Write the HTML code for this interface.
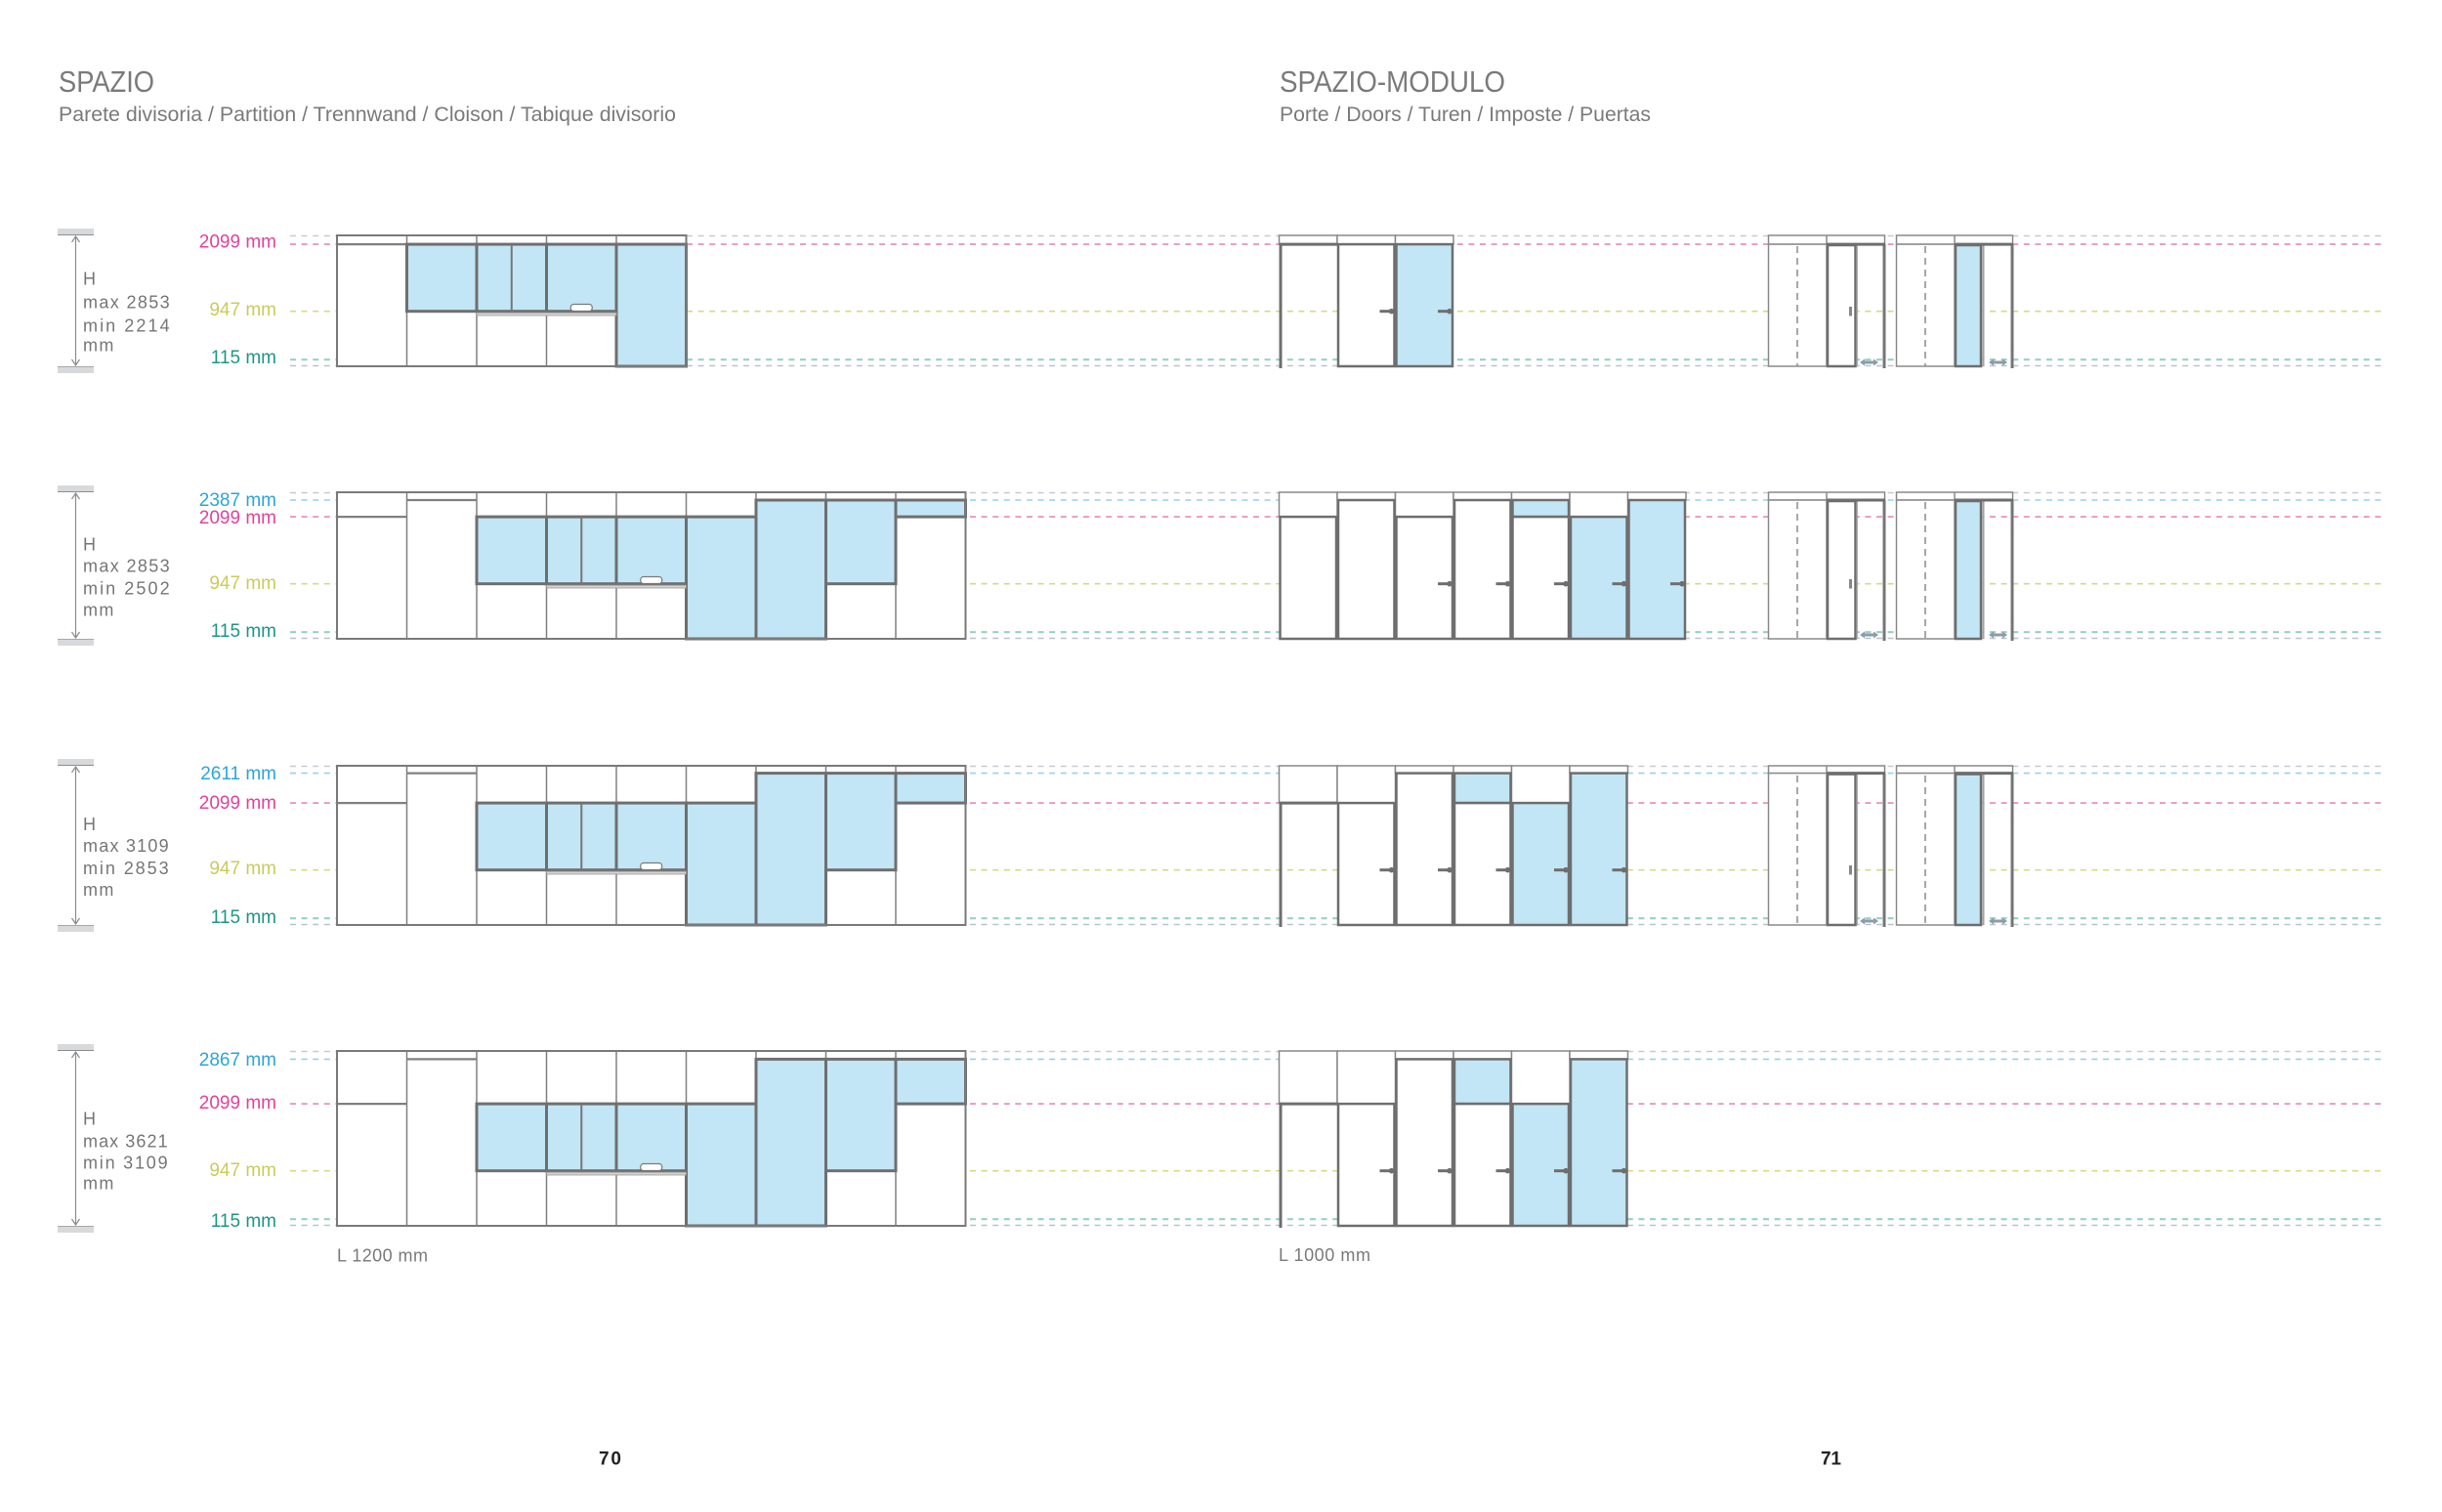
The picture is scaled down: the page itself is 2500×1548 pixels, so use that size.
<!DOCTYPE html>
<html>
<head>
<meta charset="utf-8">
<style>
html,body{margin:0;padding:0;background:#fff;}
svg{display:block;}
text{font-family:"Liberation Sans",sans-serif;}
.hd{fill:#7a7a7a;}
.lt{fill:#767676;font-size:18px;letter-spacing:1.4px;}
.lab{font-size:19px;text-anchor:end;}
.cB{fill:#2aa6da;} .cP{fill:#e5419a;} .cY{fill:#cbcb5a;} .cT{fill:#1b9786;}
.d{fill:none;stroke-dasharray:6 5.6;stroke-width:1.6;}
.g1{stroke:#c6cad1;} .bl{stroke:#93d2ea;} .pk{stroke:#e58ab9;} .ye{stroke:#d8d982;} .te{stroke:#95d3c3;stroke-width:2.1;} .g2{stroke:#bcc2cb;}
</style>
</head>
<body>
<svg width="2500" height="1548" viewBox="0 0 2500 1548" xmlns="http://www.w3.org/2000/svg">
<defs>
  <g id="hdl"><line x1="-12" y1="0" x2="0" y2="0" stroke="#6e6e6e" stroke-width="3"/><circle cx="0" cy="0" r="2.8" fill="#6e6e6e"/></g>
  <g id="arr"><line x1="4" y1="0" x2="15" y2="0" stroke="#8d9cab" stroke-width="3"/><polygon points="0,0 5,-3.5 5,3.5" fill="#8d9cab"/><polygon points="19,0 14,-3.5 14,3.5" fill="#8d9cab"/></g>
</defs>
<rect width="2500" height="1548" fill="#fff"/>

<!-- HEADERS -->
<text class="hd" x="60" y="94" font-size="31" textLength="98" lengthAdjust="spacingAndGlyphs">SPAZIO</text>
<text class="hd" x="60" y="124" font-size="21" textLength="632" lengthAdjust="spacingAndGlyphs">Parete divisoria / Partition / Trennwand / Cloison / Tabique divisorio</text>
<text class="hd" x="1310" y="94" font-size="31" textLength="231" lengthAdjust="spacingAndGlyphs">SPAZIO-MODULO</text>
<text class="hd" x="1310" y="124" font-size="21" textLength="380" lengthAdjust="spacingAndGlyphs">Porte / Doors / Turen / Imposte / Puertas</text>

<!-- DASHED LINES -->
<line class="d g1" x1="297" y1="241.5" x2="2440" y2="241.5"/>
<line class="d pk" x1="297" y1="250.1" x2="2440" y2="250.1"/>
<line class="d ye" x1="297" y1="318.7" x2="2440" y2="318.7"/>
<line class="d te" x1="297" y1="368.2" x2="2440" y2="368.2"/>
<line class="d g2" x1="297" y1="374.5" x2="2440" y2="374.5"/>

<line class="d g1" x1="297" y1="504.5" x2="2440" y2="504.5"/>
<line class="d bl" x1="297" y1="512" x2="2440" y2="512"/>
<line class="d pk" x1="297" y1="529.1" x2="2440" y2="529.1"/>
<line class="d ye" x1="297" y1="597.7" x2="2440" y2="597.7"/>
<line class="d te" x1="297" y1="647.2" x2="2440" y2="647.2"/>
<line class="d g2" x1="297" y1="653.5" x2="2440" y2="653.5"/>

<line class="d g1" x1="297" y1="784.5" x2="2440" y2="784.5"/>
<line class="d bl" x1="297" y1="791.6" x2="2440" y2="791.6"/>
<line class="d pk" x1="297" y1="822.1" x2="2440" y2="822.1"/>
<line class="d ye" x1="297" y1="890.7" x2="2440" y2="890.7"/>
<line class="d te" x1="297" y1="940.2" x2="2440" y2="940.2"/>
<line class="d g2" x1="297" y1="946.5" x2="2440" y2="946.5"/>

<line class="d g1" x1="297" y1="1076.5" x2="2440" y2="1076.5"/>
<line class="d bl" x1="297" y1="1084.4" x2="2440" y2="1084.4"/>
<line class="d pk" x1="297" y1="1130.1" x2="2440" y2="1130.1"/>
<line class="d ye" x1="297" y1="1198.7" x2="2440" y2="1198.7"/>
<line class="d te" x1="297" y1="1248.2" x2="2440" y2="1248.2"/>
<line class="d g2" x1="297" y1="1254.5" x2="2440" y2="1254.5"/>

<!-- LEFT HEIGHT INDICATORS -->
<g>
  <rect x="59" y="234" width="37" height="7" fill="#d8d9db"/><line x1="59" y1="240.5" x2="96" y2="240.5" stroke="#8e8e8e" stroke-width="1"/>
  <rect x="59" y="375" width="37" height="7" fill="#d8d9db"/><line x1="59" y1="375.5" x2="96" y2="375.5" stroke="#a8a8a8" stroke-width="1"/>
  <line x1="77.5" y1="242" x2="77.5" y2="374" stroke="#8c8c8c" stroke-width="1.2"/>
  <polyline points="73.5,248 77.5,242 81.5,248" fill="none" stroke="#8c8c8c" stroke-width="1.2"/>
  <polyline points="73.5,368 77.5,374 81.5,368" fill="none" stroke="#8c8c8c" stroke-width="1.2"/>
  <text class="lt" x="85" y="291.5">H</text>
  <text class="lt" x="85" y="315.5" textLength="90">max 2853</text>
  <text class="lt" x="85" y="339.5" textLength="90">min 2214</text>
  <text class="lt" x="85" y="359.5">mm</text>

  <rect x="59" y="497" width="37" height="7" fill="#d8d9db"/><line x1="59" y1="503.5" x2="96" y2="503.5" stroke="#8e8e8e" stroke-width="1"/>
  <rect x="59" y="654" width="37" height="7" fill="#d8d9db"/><line x1="59" y1="654.5" x2="96" y2="654.5" stroke="#a8a8a8" stroke-width="1"/>
  <line x1="77.5" y1="505" x2="77.5" y2="653" stroke="#8c8c8c" stroke-width="1.2"/>
  <polyline points="73.5,511 77.5,505 81.5,511" fill="none" stroke="#8c8c8c" stroke-width="1.2"/>
  <polyline points="73.5,647 77.5,653 81.5,647" fill="none" stroke="#8c8c8c" stroke-width="1.2"/>
  <text class="lt" x="85" y="563.5">H</text>
  <text class="lt" x="85" y="585.5" textLength="90">max 2853</text>
  <text class="lt" x="85" y="608.5" textLength="90">min 2502</text>
  <text class="lt" x="85" y="630.5">mm</text>

  <rect x="59" y="777" width="37" height="7" fill="#d8d9db"/><line x1="59" y1="783.5" x2="96" y2="783.5" stroke="#8e8e8e" stroke-width="1"/>
  <rect x="59" y="947" width="37" height="7" fill="#d8d9db"/><line x1="59" y1="947.5" x2="96" y2="947.5" stroke="#a8a8a8" stroke-width="1"/>
  <line x1="77.5" y1="785" x2="77.5" y2="946" stroke="#8c8c8c" stroke-width="1.2"/>
  <polyline points="73.5,791 77.5,785 81.5,791" fill="none" stroke="#8c8c8c" stroke-width="1.2"/>
  <polyline points="73.5,940 77.5,946 81.5,940" fill="none" stroke="#8c8c8c" stroke-width="1.2"/>
  <text class="lt" x="85" y="850">H</text>
  <text class="lt" x="85" y="872" textLength="89">max 3109</text>
  <text class="lt" x="85" y="895" textLength="89">min 2853</text>
  <text class="lt" x="85" y="917">mm</text>

  <rect x="59" y="1069" width="37" height="7" fill="#d8d9db"/><line x1="59" y1="1075.5" x2="96" y2="1075.5" stroke="#8e8e8e" stroke-width="1"/>
  <rect x="59" y="1255" width="37" height="7" fill="#d8d9db"/><line x1="59" y1="1255.5" x2="96" y2="1255.5" stroke="#a8a8a8" stroke-width="1"/>
  <line x1="77.5" y1="1077" x2="77.5" y2="1254" stroke="#8c8c8c" stroke-width="1.2"/>
  <polyline points="73.5,1083 77.5,1077 81.5,1083" fill="none" stroke="#8c8c8c" stroke-width="1.2"/>
  <polyline points="73.5,1248 77.5,1254 81.5,1248" fill="none" stroke="#8c8c8c" stroke-width="1.2"/>
  <text class="lt" x="85" y="1151.5">H</text>
  <text class="lt" x="85" y="1174.5" textLength="88">max 3621</text>
  <text class="lt" x="85" y="1196.5" textLength="88">min 3109</text>
  <text class="lt" x="85" y="1217.5">mm</text>
</g>

<!-- LABELS -->
<text class="lab cP" x="283" y="253.5">2099 mm</text>
<text class="lab cY" x="283" y="323">947 mm</text>
<text class="lab cT" x="283" y="372">115 mm</text>

<text class="lab cB" x="283" y="518">2387 mm</text>
<text class="lab cP" x="283" y="536">2099 mm</text>
<text class="lab cY" x="283" y="603">947 mm</text>
<text class="lab cT" x="283" y="652">115 mm</text>

<text class="lab cB" x="283" y="798">2611 mm</text>
<text class="lab cP" x="283" y="828">2099 mm</text>
<text class="lab cY" x="283" y="895">947 mm</text>
<text class="lab cT" x="283" y="945">115 mm</text>

<text class="lab cB" x="283" y="1091">2867 mm</text>
<text class="lab cP" x="283" y="1135">2099 mm</text>
<text class="lab cY" x="283" y="1204">947 mm</text>
<text class="lab cT" x="283" y="1256">115 mm</text>

<!-- ================= LEFT DIAGRAMS ================= -->
<!-- Row 1 -->
<rect x="345" y="241" width="357.5" height="134" fill="#fff"/>
<g stroke="#808080" stroke-width="1.5">
  <line x1="416.5" y1="241" x2="416.5" y2="375"/>
  <line x1="488" y1="241" x2="488" y2="375"/>
  <line x1="559.5" y1="241" x2="559.5" y2="375"/>
  <line x1="631" y1="241" x2="631" y2="375"/>
  <line x1="345" y1="250.1" x2="416.5" y2="250.1" stroke-width="2.2"/>
</g>
<g fill="#c2e6f6" stroke="#6f6f6f" stroke-width="3">
  <rect x="416.5" y="250.1" width="71.5" height="68.6"/>
  <rect x="488" y="250.1" width="71.5" height="68.6"/>
  <rect x="559.5" y="250.1" width="71.5" height="68.6"/>
  <rect x="631" y="250.1" width="71.5" height="124.9"/>
</g>
<line x1="523.75" y1="250" x2="523.75" y2="318.7" stroke="#777" stroke-width="2"/>
<rect x="488" y="320.2" width="143" height="2.8" fill="#d4d4d4" stroke="#999" stroke-width="0.8"/>
<rect x="584.25" y="311.5" width="22" height="7" rx="3" fill="#fff" stroke="#7a7a7a" stroke-width="1.2"/>
<rect x="345" y="241" width="357.5" height="134" fill="none" stroke="#7a7a7a" stroke-width="2"/>

<!-- Row 2 -->
<rect x="345" y="504" width="643.5" height="150" fill="#fff"/>
<g stroke="#808080" stroke-width="1.5">
  <line x1="416.5" y1="504" x2="416.5" y2="654"/>
  <line x1="488" y1="504" x2="488" y2="654"/>
  <line x1="559.5" y1="504" x2="559.5" y2="654"/>
  <line x1="631" y1="504" x2="631" y2="654"/>
  <line x1="702.5" y1="504" x2="702.5" y2="654"/>
  <line x1="774" y1="504" x2="774" y2="654"/>
  <line x1="845.5" y1="504" x2="845.5" y2="654"/>
  <line x1="917" y1="504" x2="917" y2="654"/>
  <line x1="345" y1="529.1" x2="416.5" y2="529.1" stroke-width="2.2"/>
  <line x1="416.5" y1="512" x2="488" y2="512" stroke-width="2.2"/>
</g>
<g fill="#c2e6f6" stroke="#6f6f6f" stroke-width="3">
  <rect x="488" y="529.1" width="71.5" height="68.6"/>
  <rect x="559.5" y="529.1" width="71.5" height="68.6"/>
  <rect x="631" y="529.1" width="71.5" height="68.6"/>
  <rect x="702.5" y="529.1" width="71.5" height="124.9"/>
  <rect x="774" y="512" width="71.5" height="142"/>
  <rect x="845.5" y="512" width="71.5" height="85.7"/>
  <rect x="917" y="512" width="71.5" height="17.1"/>
</g>
<line x1="595.25" y1="529" x2="595.25" y2="597.7" stroke="#777" stroke-width="2"/>
<rect x="559.5" y="599.2" width="143" height="2.8" fill="#d4d4d4" stroke="#999" stroke-width="0.8"/>
<rect x="655.75" y="590.5" width="22" height="7" rx="3" fill="#fff" stroke="#7a7a7a" stroke-width="1.2"/>
<rect x="345" y="504" width="643.5" height="150" fill="none" stroke="#7a7a7a" stroke-width="2"/>

<!-- Row 3 -->
<rect x="345" y="784" width="643.5" height="163" fill="#fff"/>
<g stroke="#808080" stroke-width="1.5">
  <line x1="416.5" y1="784" x2="416.5" y2="947"/>
  <line x1="488" y1="784" x2="488" y2="947"/>
  <line x1="559.5" y1="784" x2="559.5" y2="947"/>
  <line x1="631" y1="784" x2="631" y2="947"/>
  <line x1="702.5" y1="784" x2="702.5" y2="947"/>
  <line x1="774" y1="784" x2="774" y2="947"/>
  <line x1="845.5" y1="784" x2="845.5" y2="947"/>
  <line x1="917" y1="784" x2="917" y2="947"/>
  <line x1="345" y1="822.1" x2="416.5" y2="822.1" stroke-width="2.2"/>
  <line x1="416.5" y1="791.6" x2="488" y2="791.6" stroke-width="2.2"/>
</g>
<g fill="#c2e6f6" stroke="#6f6f6f" stroke-width="3">
  <rect x="488" y="822.1" width="71.5" height="68.6"/>
  <rect x="559.5" y="822.1" width="71.5" height="68.6"/>
  <rect x="631" y="822.1" width="71.5" height="68.6"/>
  <rect x="702.5" y="822.1" width="71.5" height="124.9"/>
  <rect x="774" y="791.6" width="71.5" height="155.4"/>
  <rect x="845.5" y="791.6" width="71.5" height="99.1"/>
  <rect x="917" y="791.6" width="71.5" height="30.5"/>
</g>
<line x1="595.25" y1="822" x2="595.25" y2="890.7" stroke="#777" stroke-width="2"/>
<rect x="559.5" y="892.2" width="143" height="2.8" fill="#d4d4d4" stroke="#999" stroke-width="0.8"/>
<rect x="655.75" y="883.5" width="22" height="7" rx="3" fill="#fff" stroke="#7a7a7a" stroke-width="1.2"/>
<rect x="345" y="784" width="643.5" height="163" fill="none" stroke="#7a7a7a" stroke-width="2"/>

<!-- Row 4 -->
<rect x="345" y="1076" width="643.5" height="179" fill="#fff"/>
<g stroke="#808080" stroke-width="1.5">
  <line x1="416.5" y1="1076" x2="416.5" y2="1255"/>
  <line x1="488" y1="1076" x2="488" y2="1255"/>
  <line x1="559.5" y1="1076" x2="559.5" y2="1255"/>
  <line x1="631" y1="1076" x2="631" y2="1255"/>
  <line x1="702.5" y1="1076" x2="702.5" y2="1255"/>
  <line x1="774" y1="1076" x2="774" y2="1255"/>
  <line x1="845.5" y1="1076" x2="845.5" y2="1255"/>
  <line x1="917" y1="1076" x2="917" y2="1255"/>
  <line x1="345" y1="1130.1" x2="416.5" y2="1130.1" stroke-width="2.2"/>
  <line x1="416.5" y1="1084.4" x2="488" y2="1084.4" stroke-width="2.2"/>
</g>
<g fill="#c2e6f6" stroke="#6f6f6f" stroke-width="3">
  <rect x="488" y="1130.1" width="71.5" height="68.6"/>
  <rect x="559.5" y="1130.1" width="71.5" height="68.6"/>
  <rect x="631" y="1130.1" width="71.5" height="68.6"/>
  <rect x="702.5" y="1130.1" width="71.5" height="124.9"/>
  <rect x="774" y="1084.4" width="71.5" height="170.6"/>
  <rect x="845.5" y="1084.4" width="71.5" height="114.3"/>
  <rect x="917" y="1084.4" width="71.5" height="45.7"/>
</g>
<line x1="595.25" y1="1130" x2="595.25" y2="1198.7" stroke="#777" stroke-width="2"/>
<rect x="559.5" y="1200.2" width="143" height="2.8" fill="#d4d4d4" stroke="#999" stroke-width="0.8"/>
<rect x="655.75" y="1191.5" width="22" height="7" rx="3" fill="#fff" stroke="#7a7a7a" stroke-width="1.2"/>
<rect x="345" y="1076" width="643.5" height="179" fill="none" stroke="#7a7a7a" stroke-width="2"/>

<text class="hd" x="345" y="1291.5" font-size="18" textLength="93">L 1200 mm</text>

<!-- ================= RIGHT DIAGRAMS ================= -->
<!-- Row 1 -->
<g fill="#fff" stroke="#888" stroke-width="1.5">
  <rect x="1309.5" y="241" width="59.5" height="9.1"/>
  <rect x="1369" y="241" width="59.5" height="9.1"/>
  <rect x="1428.5" y="241" width="59.5" height="9.1"/>
</g>
<line x1="1309.5" y1="250.1" x2="1369" y2="250.1" stroke="#6e6e6e" stroke-width="3"/>
<line x1="1311" y1="250" x2="1311" y2="377" stroke="#6e6e6e" stroke-width="3"/>
<g stroke="#6e6e6e" stroke-width="2.5">
  <rect x="1370" y="250.1" width="57.5" height="124.9" fill="#fff"/>
  <rect x="1429.5" y="250.1" width="57.5" height="124.9" fill="#c2e6f6"/>
</g>
<use href="#hdl" x="1424.5" y="318.7"/>
<use href="#hdl" x="1484" y="318.7"/>

<rect x="1810.5" y="241" width="119" height="9.1" fill="#fff" stroke="#888" stroke-width="1.5"/>
<line x1="1870" y1="241" x2="1870" y2="250" stroke="#888" stroke-width="1.5"/>
<rect x="1810.5" y="250.1" width="59.5" height="124.9" fill="#fff" stroke="#8a8a8a" stroke-width="1.5"/>
<line x1="1840" y1="252" x2="1840" y2="375" stroke="#8a8a8a" stroke-width="1.5" stroke-dasharray="7 5"/>
<rect x="1871" y="251" width="28.5" height="124" fill="#fff" stroke="#6e6e6e" stroke-width="2.5"/>
<line x1="1901" y1="250" x2="1901" y2="375" stroke="#9a9a9a" stroke-width="1.5"/>
<line x1="1929" y1="250" x2="1929" y2="377" stroke="#757575" stroke-width="3"/>
<line x1="1870" y1="250.1" x2="1930" y2="250.1" stroke="#6e6e6e" stroke-width="3"/>
<rect x="1893" y="314" width="3" height="9.5" fill="#888"/>
<use href="#arr" x="1904" y="371"/>

<rect x="1941.5" y="241" width="119" height="9.1" fill="#fff" stroke="#888" stroke-width="1.5"/>
<line x1="2001" y1="241" x2="2001" y2="250" stroke="#888" stroke-width="1.5"/>
<rect x="1941.5" y="250.1" width="59.5" height="124.9" fill="#fff" stroke="#8a8a8a" stroke-width="1.5"/>
<line x1="1971" y1="252" x2="1971" y2="375" stroke="#8a8a8a" stroke-width="1.5" stroke-dasharray="7 5"/>
<rect x="2002" y="251" width="26" height="124" fill="#c2e6f6" stroke="#6e6e6e" stroke-width="2.5"/>
<line x1="2030.5" y1="250" x2="2030.5" y2="375" stroke="#a5a5a5" stroke-width="2"/>
<line x1="2060" y1="250" x2="2060" y2="377" stroke="#757575" stroke-width="3"/>
<line x1="2001" y1="250.1" x2="2061" y2="250.1" stroke="#6e6e6e" stroke-width="3"/>
<use href="#arr" x="2036" y="371"/>

<!-- Row 2 -->
<g fill="#fff" stroke="#888" stroke-width="1.5">
  <rect x="1309.5" y="504" width="59.5" height="25.1"/>
  <rect x="1369" y="504" width="59.5" height="8"/>
  <rect x="1428.5" y="504" width="59.5" height="25.1"/>
  <rect x="1488" y="504" width="59.5" height="8"/>
  <rect x="1547.5" y="504" width="59.5" height="8"/>
  <rect x="1607" y="504" width="59.5" height="25.1"/>
  <rect x="1666.5" y="504" width="59.5" height="8"/>
</g>
<g stroke="#6e6e6e" stroke-width="2.5">
  <rect x="1310.5" y="529.1" width="57.5" height="124.9" fill="#fff"/>
  <rect x="1370" y="512" width="57.5" height="142" fill="#fff"/>
  <rect x="1429.5" y="529.1" width="57.5" height="124.9" fill="#fff"/>
  <rect x="1489" y="512" width="57.5" height="142" fill="#fff"/>
  <rect x="1548.5" y="512" width="57.5" height="17.1" fill="#c2e6f6"/>
  <rect x="1548.5" y="529.1" width="57.5" height="124.9" fill="#fff"/>
  <rect x="1608" y="529.1" width="57.5" height="124.9" fill="#c2e6f6"/>
  <rect x="1667.5" y="512" width="57.5" height="142" fill="#c2e6f6"/>
</g>
<use href="#hdl" x="1484" y="597.7"/>
<use href="#hdl" x="1543.5" y="597.7"/>
<use href="#hdl" x="1603" y="597.7"/>
<use href="#hdl" x="1662.5" y="597.7"/>
<use href="#hdl" x="1722" y="597.7"/>

<rect x="1810.5" y="504" width="119" height="8" fill="#fff" stroke="#888" stroke-width="1.5"/>
<line x1="1870" y1="504" x2="1870" y2="512" stroke="#888" stroke-width="1.5"/>
<rect x="1810.5" y="512" width="59.5" height="142" fill="#fff" stroke="#8a8a8a" stroke-width="1.5"/>
<line x1="1840" y1="514" x2="1840" y2="654" stroke="#8a8a8a" stroke-width="1.5" stroke-dasharray="7 5"/>
<rect x="1871" y="513" width="28.5" height="141" fill="#fff" stroke="#6e6e6e" stroke-width="2.5"/>
<line x1="1901" y1="512" x2="1901" y2="654" stroke="#9a9a9a" stroke-width="1.5"/>
<line x1="1929" y1="512" x2="1929" y2="656" stroke="#757575" stroke-width="3"/>
<line x1="1870" y1="512" x2="1930" y2="512" stroke="#6e6e6e" stroke-width="3"/>
<rect x="1893" y="593" width="3" height="9.5" fill="#888"/>
<use href="#arr" x="1904" y="650"/>

<rect x="1941.5" y="504" width="119" height="8" fill="#fff" stroke="#888" stroke-width="1.5"/>
<line x1="2001" y1="504" x2="2001" y2="512" stroke="#888" stroke-width="1.5"/>
<rect x="1941.5" y="512" width="59.5" height="142" fill="#fff" stroke="#8a8a8a" stroke-width="1.5"/>
<line x1="1971" y1="514" x2="1971" y2="654" stroke="#8a8a8a" stroke-width="1.5" stroke-dasharray="7 5"/>
<rect x="2002" y="513" width="26" height="141" fill="#c2e6f6" stroke="#6e6e6e" stroke-width="2.5"/>
<line x1="2030.5" y1="512" x2="2030.5" y2="654" stroke="#a5a5a5" stroke-width="2"/>
<line x1="2060" y1="512" x2="2060" y2="656" stroke="#757575" stroke-width="3"/>
<line x1="2001" y1="512" x2="2061" y2="512" stroke="#6e6e6e" stroke-width="3"/>
<use href="#arr" x="2036" y="650"/>

<!-- Row 3 -->
<g fill="#fff" stroke="#888" stroke-width="1.5">
  <rect x="1309.5" y="784" width="59.5" height="38.1"/>
  <rect x="1369" y="784" width="59.5" height="38.1"/>
  <rect x="1428.5" y="784" width="59.5" height="7.6"/>
  <rect x="1488" y="784" width="59.5" height="7.6"/>
  <rect x="1547.5" y="784" width="59.5" height="38.1"/>
  <rect x="1607" y="784" width="59.5" height="7.6"/>
</g>
<line x1="1309.5" y1="822.1" x2="1369" y2="822.1" stroke="#6e6e6e" stroke-width="3"/>
<line x1="1311" y1="822" x2="1311" y2="949" stroke="#6e6e6e" stroke-width="3"/>
<g stroke="#6e6e6e" stroke-width="2.5">
  <rect x="1370" y="822.1" width="57.5" height="124.9" fill="#fff"/>
  <rect x="1429.5" y="791.6" width="57.5" height="155.4" fill="#fff"/>
  <rect x="1489" y="791.6" width="57.5" height="30.5" fill="#c2e6f6"/>
  <rect x="1489" y="822.1" width="57.5" height="124.9" fill="#fff"/>
  <rect x="1548.5" y="822.1" width="57.5" height="124.9" fill="#c2e6f6"/>
  <rect x="1608" y="791.6" width="57.5" height="155.4" fill="#c2e6f6"/>
</g>
<use href="#hdl" x="1424.5" y="890.7"/>
<use href="#hdl" x="1484" y="890.7"/>
<use href="#hdl" x="1543.5" y="890.7"/>
<use href="#hdl" x="1603" y="890.7"/>
<use href="#hdl" x="1662.5" y="890.7"/>

<rect x="1810.5" y="784" width="119" height="7.6" fill="#fff" stroke="#888" stroke-width="1.5"/>
<line x1="1870" y1="784" x2="1870" y2="791.6" stroke="#888" stroke-width="1.5"/>
<rect x="1810.5" y="791.6" width="59.5" height="155.4" fill="#fff" stroke="#8a8a8a" stroke-width="1.5"/>
<line x1="1840" y1="794" x2="1840" y2="947" stroke="#8a8a8a" stroke-width="1.5" stroke-dasharray="7 5"/>
<rect x="1871" y="792.6" width="28.5" height="154.4" fill="#fff" stroke="#6e6e6e" stroke-width="2.5"/>
<line x1="1901" y1="791.6" x2="1901" y2="947" stroke="#9a9a9a" stroke-width="1.5"/>
<line x1="1929" y1="791.6" x2="1929" y2="949" stroke="#757575" stroke-width="3"/>
<line x1="1870" y1="791.6" x2="1930" y2="791.6" stroke="#6e6e6e" stroke-width="3"/>
<rect x="1893" y="886" width="3" height="9.5" fill="#888"/>
<use href="#arr" x="1904" y="943"/>

<rect x="1941.5" y="784" width="119" height="7.6" fill="#fff" stroke="#888" stroke-width="1.5"/>
<line x1="2001" y1="784" x2="2001" y2="791.6" stroke="#888" stroke-width="1.5"/>
<rect x="1941.5" y="791.6" width="59.5" height="155.4" fill="#fff" stroke="#8a8a8a" stroke-width="1.5"/>
<line x1="1971" y1="794" x2="1971" y2="947" stroke="#8a8a8a" stroke-width="1.5" stroke-dasharray="7 5"/>
<rect x="2002" y="792.6" width="26" height="154.4" fill="#c2e6f6" stroke="#6e6e6e" stroke-width="2.5"/>
<line x1="2030.5" y1="791.6" x2="2030.5" y2="947" stroke="#a5a5a5" stroke-width="2"/>
<line x1="2060" y1="791.6" x2="2060" y2="949" stroke="#757575" stroke-width="3"/>
<line x1="2001" y1="791.6" x2="2061" y2="791.6" stroke="#6e6e6e" stroke-width="3"/>
<use href="#arr" x="2036" y="943"/>

<!-- Row 4 -->
<g fill="#fff" stroke="#888" stroke-width="1.5">
  <rect x="1309.5" y="1076" width="59.5" height="54.1"/>
  <rect x="1369" y="1076" width="59.5" height="54.1"/>
  <rect x="1428.5" y="1076" width="59.5" height="8.4"/>
  <rect x="1488" y="1076" width="59.5" height="8.4"/>
  <rect x="1547.5" y="1076" width="59.5" height="54.1"/>
  <rect x="1607" y="1076" width="59.5" height="8.4"/>
</g>
<line x1="1309.5" y1="1130.1" x2="1369" y2="1130.1" stroke="#6e6e6e" stroke-width="3"/>
<line x1="1311" y1="1130" x2="1311" y2="1257" stroke="#6e6e6e" stroke-width="3"/>
<g stroke="#6e6e6e" stroke-width="2.5">
  <rect x="1370" y="1130.1" width="57.5" height="124.9" fill="#fff"/>
  <rect x="1429.5" y="1084.4" width="57.5" height="170.6" fill="#fff"/>
  <rect x="1489" y="1084.4" width="57.5" height="45.7" fill="#c2e6f6"/>
  <rect x="1489" y="1130.1" width="57.5" height="124.9" fill="#fff"/>
  <rect x="1548.5" y="1130.1" width="57.5" height="124.9" fill="#c2e6f6"/>
  <rect x="1608" y="1084.4" width="57.5" height="170.6" fill="#c2e6f6"/>
</g>
<use href="#hdl" x="1424.5" y="1198.7"/>
<use href="#hdl" x="1484" y="1198.7"/>
<use href="#hdl" x="1543.5" y="1198.7"/>
<use href="#hdl" x="1603" y="1198.7"/>
<use href="#hdl" x="1662.5" y="1198.7"/>

<text class="hd" x="1309" y="1291" font-size="18" textLength="94">L 1000 mm</text>

<!-- PAGE NUMBERS -->
<text x="613" y="1499.5" font-size="19" font-weight="bold" fill="#222" textLength="23">70</text>
<text x="1864" y="1499.5" font-size="19" font-weight="bold" fill="#222" textLength="21">71</text>
</svg>
</body>
</html>
